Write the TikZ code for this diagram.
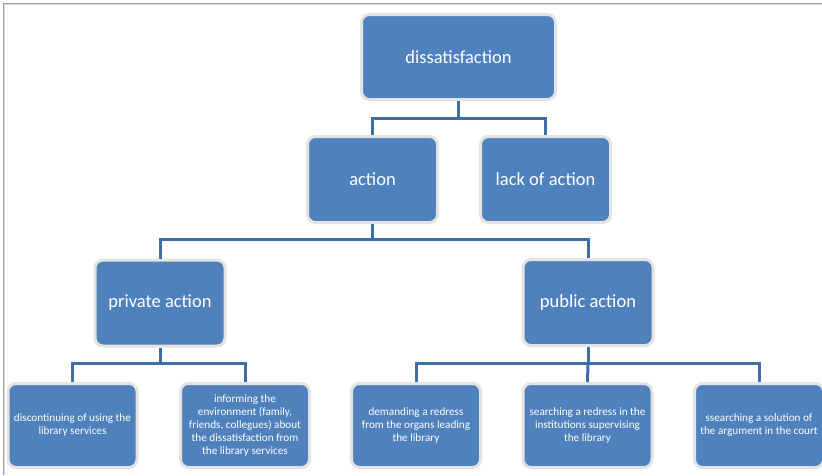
\documentclass[tikz,border=0pt]{standalone}
\usepackage{fontspec}
\setmainfont{Carlito}
\definecolor{boxblue}{HTML}{4F81BD}
\definecolor{linkblue}{HTML}{3F6DA5}
\definecolor{rim}{HTML}{E3E3E3}
\definecolor{frameg}{HTML}{A0A0A0}
\begin{document}
\begin{tikzpicture}[x=1pt,y=-1pt,
  box/.style={fill=boxblue, draw=rim, line width=3pt, rounded corners=8pt,
    text=white, align=center, inner sep=2pt},
  bigbox/.style={box, minimum width=130pt, minimum height=86pt,
    font=\fontsize{18.5}{22}\selectfont},
  smallbox/.style={box, minimum width=129pt, minimum height=84pt,
    font=\fontsize{11.2}{13}\selectfont},
  link/.style={draw=linkblue, line width=3pt}]
\clip (0,0) rectangle (822,475);
\fill[white] (0,0) rectangle (822,475);
\draw[frameg, line width=1.3pt] (3.5,475) -- (3.5,3.5) -- (822,3.5);
\draw[black!15, line width=0.8pt] (4.8,475) -- (4.8,4.8) -- (822,4.8);

% nodes
\node[bigbox, minimum width=194pt, minimum height=85pt] (diss) at (458.5,57) {dissatisfaction};
\node[bigbox] (act)  at (372.5,179.5) {action};
\node[bigbox] (lack) at (545.5,179.5) {lack of action};
\node[bigbox] (priv) at (160,303) {private action};
\node[bigbox] (pub)  at (588,302.5) {public action};

\node[smallbox] (b1) at (72.5,425.5) {discontinuing of using the\\library services};
\node[smallbox] (b2) at (245,425.5) {informing the\\environment (family,\\friends, collegues) about\\the dissatisfaction from\\the library services};
\node[smallbox] (b3) at (416,425.5) {demanding a redress\\from the organs leading\\the library};
\node[smallbox] (b4) at (587.5,425.5) {searching a redress in the\\institutions supervising\\the library};
\node[smallbox] (b5) at (759,425.5) {ssearching a solution of\\the argument in the court};

% junction points
\coordinate (j1) at (458.5,118);
\coordinate (j2) at (372.5,239);
\coordinate (j3) at (160,363.5);
\coordinate (j4) at (588,363.5);

% connectors
\draw[link] (diss.south) -- (j1);
\draw[link] (act.north) |- (j1) -| (lack.north);
\draw[link] (act.south) -- (j2);
\draw[link] (priv.north) |- (j2) -| (pub.north);
\draw[link] (priv.south) -- (j3);
\draw[link] (b1.north) |- (j3) -| (b2.north);
\draw[link] (pub.south) -- (j4);
\draw[link] (b3.north) |- (j4) -| (b5.north);
\draw[link] (j4) -- (b4.north);
\end{tikzpicture}
\end{document}
